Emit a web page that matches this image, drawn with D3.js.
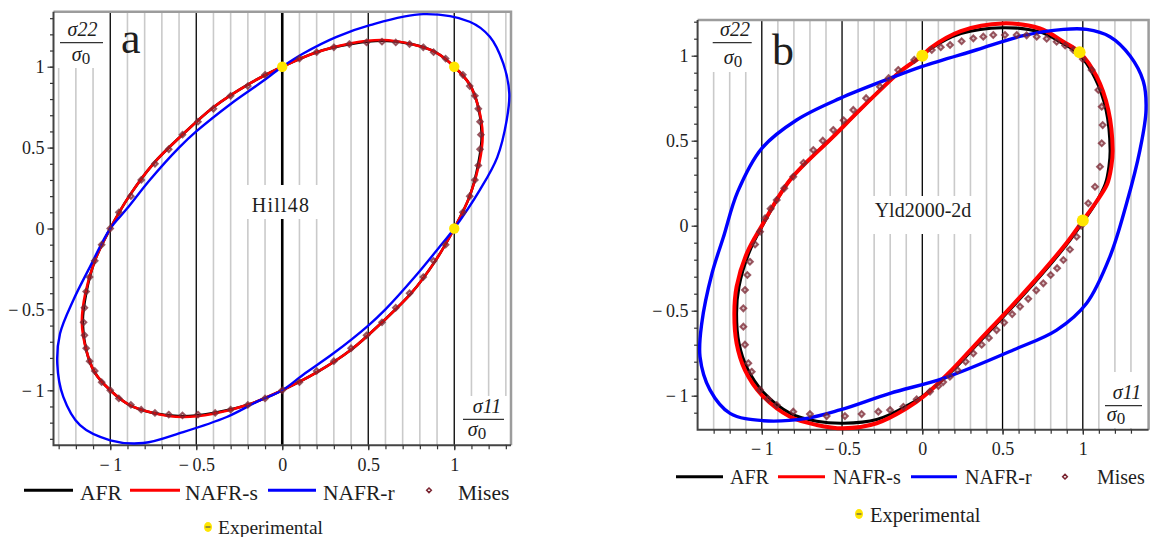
<!DOCTYPE html>
<html>
<head>
<meta charset="utf-8">
<script src="https://cdn.jsdelivr.net/npm/d3@7"></script>
<style>
  body { margin: 0; background: #fff; }
  svg { display: block; }
  text { font-family: "Liberation Serif", "DejaVu Serif", serif; fill: #1e1e1e; }
</style>
</head>
<body>
<svg id="chart" width="1156" height="537"></svg>
<script>
// ---- panel a : Hill48 ----
const afrA = [[1.00,1.00],[0.89,1.09],[0.75,1.14],[0.58,1.16],[0.40,1.14],[0.20,1.09],[0.00,1.00],[-0.20,0.89],[-0.40,0.75],[-0.58,0.58],[-0.75,0.40],[-0.89,0.20],[-1.00,0.00],[-1.09,-0.20],[-1.14,-0.40],[-1.16,-0.58],[-1.14,-0.75],[-1.09,-0.89],[-1.00,-1.00],[-0.89,-1.09],[-0.75,-1.14],[-0.58,-1.16],[-0.40,-1.14],[-0.20,-1.09],[0.00,-1.00],[0.20,-0.89],[0.40,-0.75],[0.58,-0.58],[0.75,-0.40],[0.89,-0.20],[1.00,0.00],[1.09,0.20],[1.14,0.40],[1.16,0.58],[1.14,0.75],[1.09,0.89]];
const nafrsA = [[1.00,1.00],[0.89,1.09],[0.75,1.14],[0.58,1.165],[0.40,1.145],[0.20,1.09],[0.00,1.00],[-0.20,0.89],[-0.40,0.75],[-0.58,0.58],[-0.75,0.40],[-0.89,0.20],[-1.00,0.00],[-1.09,-0.20],[-1.145,-0.40],[-1.165,-0.58],[-1.14,-0.75],[-1.09,-0.89],[-1.00,-1.00],[-0.89,-1.09],[-0.75,-1.14],[-0.58,-1.165],[-0.40,-1.145],[-0.20,-1.09],[0.00,-1.00],[0.20,-0.89],[0.40,-0.75],[0.58,-0.58],[0.75,-0.40],[0.89,-0.20],[1.00,0.00],[1.09,0.20],[1.145,0.40],[1.165,0.58],[1.14,0.75],[1.09,0.89]];
const nafrrA = [[1.00,0.00],[1.15,0.24],[1.25,0.44],[1.305,0.67],[1.32,0.835],[1.285,1.02],[1.207,1.185],[1.09,1.278],[0.82,1.325],[0.51,1.257],[0.316,1.185],[0.122,1.082],[0.00,1.00],[-0.12,0.905],[-0.30,0.77],[-0.50,0.60],[-0.60,0.50],[-0.77,0.30],[-0.905,0.12],[-1.00,0.00],[-1.118,-0.237],[-1.215,-0.443],[-1.292,-0.649],[-1.308,-0.835],[-1.273,-1.041],[-1.176,-1.216],[-1.00,-1.309],[-0.808,-1.326],[-0.576,-1.258],[-0.323,-1.165],[-0.149,-1.072],[0.00,-1.00],[0.12,-0.905],[0.30,-0.77],[0.50,-0.60],[0.60,-0.50],[0.77,-0.30],[0.907,-0.124]];
const misesA = [[1.00,1.00],[0.95,1.05],[0.88,1.09],[0.82,1.12],[0.74,1.14],[0.66,1.15],[0.58,1.155],[0.49,1.15],[0.39,1.14],[0.30,1.12],[0.20,1.09],[0.10,1.05],[0.00,1.00],[-0.10,0.95],[-0.20,0.88],[-0.30,0.82],[-0.40,0.74],[-0.49,0.66],[-0.58,0.58],[-0.66,0.49],[-0.74,0.40],[-0.82,0.30],[-0.88,0.20],[-0.95,0.10],[-1.00,0.00],[-1.05,-0.10],[-1.09,-0.20],[-1.12,-0.30],[-1.14,-0.39],[-1.15,-0.49],[-1.155,-0.58],[-1.15,-0.66],[-1.14,-0.74],[-1.12,-0.82],[-1.09,-0.88],[-1.05,-0.95],[-1.00,-1.00],[-0.95,-1.05],[-0.88,-1.09],[-0.82,-1.12],[-0.74,-1.14],[-0.66,-1.15],[-0.58,-1.155],[-0.49,-1.15],[-0.39,-1.14],[-0.30,-1.12],[-0.20,-1.09],[-0.10,-1.05],[0.00,-1.00],[0.10,-0.95],[0.20,-0.88],[0.30,-0.82],[0.40,-0.74],[0.49,-0.66],[0.58,-0.58],[0.66,-0.49],[0.74,-0.40],[0.82,-0.30],[0.88,-0.20],[0.95,-0.10],[1.00,0.00],[1.05,0.10],[1.09,0.20],[1.12,0.30],[1.14,0.39],[1.15,0.49],[1.155,0.58],[1.15,0.66],[1.14,0.74],[1.12,0.82],[1.09,0.88],[1.05,0.95]];
const expA = [[0.00,1.00],[1.00,1.00],[1.00,0.00]];

// ---- panel b : Yld2000-2d ----
const afrB = [[1.00,0.02],[1.075,0.125],[1.14,0.245],[1.163,0.35],[1.17,0.445],[1.145,0.68],[1.075,0.87],[0.975,1.01],[0.87,1.075],[0.73,1.14],[0.50,1.165],[0.24,1.13],[0.05,1.04],[0.00,1.00],[-0.139,0.906],[-0.305,0.759],[-0.555,0.524],[-0.824,0.269],[-0.99,0.01],[-1.08,-0.16],[-1.142,-0.359],[-1.157,-0.515],[-1.142,-0.69],[-1.09,-0.84],[-0.99,-0.98],[-0.82,-1.105],[-0.658,-1.15],[-0.492,-1.162],[-0.284,-1.14],[-0.097,-1.06],[0.006,-1.00],[0.18,-0.86],[0.36,-0.68],[0.56,-0.48],[0.76,-0.27],[0.90,-0.11]];
const nafrsB = [[1.00,0.03],[1.08,0.135],[1.152,0.245],[1.178,0.35],[1.186,0.445],[1.159,0.681],[1.087,0.876],[0.982,1.018],[0.879,1.082],[0.733,1.16],[0.50,1.19],[0.24,1.145],[0.05,1.045],[0.00,1.00],[-0.139,0.906],[-0.305,0.759],[-0.555,0.524],[-0.824,0.269],[-1.00,0.00],[-1.094,-0.163],[-1.157,-0.359],[-1.171,-0.515],[-1.157,-0.692],[-1.105,-0.849],[-1.00,-0.996],[-0.824,-1.124],[-0.658,-1.172],[-0.492,-1.192],[-0.284,-1.162],[-0.097,-1.074],[0.006,-1.006],[0.173,-0.859],[0.35,-0.68],[0.55,-0.48],[0.75,-0.27],[0.90,-0.10]];
const nafrrB = [[1.394,0.681],[1.377,0.85],[1.294,1.00],[1.169,1.112],[1.024,1.155],[0.879,1.155],[0.629,1.118],[0.34,1.035],[0.00,0.937],[-0.201,0.867],[-0.513,0.749],[-0.783,0.622],[-1.00,0.455],[-1.15,0.20],[-1.24,-0.07],[-1.31,-0.28],[-1.374,-0.574],[-1.385,-0.771],[-1.323,-0.966],[-1.198,-1.104],[-0.99,-1.147],[-0.72,-1.133],[-0.513,-1.084],[-0.201,-0.986],[0.131,-0.898],[0.567,-0.731],[0.837,-0.614],[1.024,-0.456],[1.169,-0.182],[1.273,0.132],[1.356,0.445]];
const misesB = [[0.99,0.00],[1.034,0.132],[1.076,0.229],[1.107,0.347],[1.118,0.485],[1.124,0.592],[1.118,0.70],[1.097,0.798],[1.055,0.916],[1.00,0.98],[0.941,1.034],[0.89,1.06],[0.837,1.082],[0.775,1.10],[0.713,1.112],[0.65,1.12],[0.588,1.122],[0.515,1.122],[0.442,1.122],[0.38,1.112],[0.318,1.102],[0.245,1.085],[0.173,1.063],[0.115,1.05],[0.059,1.034],[-0.05,0.975],[-0.15,0.916],[-0.21,0.868],[-0.264,0.818],[-0.35,0.75],[-0.43,0.681],[-0.49,0.62],[-0.555,0.563],[-0.62,0.50],[-0.679,0.445],[-0.74,0.37],[-0.804,0.288],[-0.86,0.22],[-0.907,0.151],[-0.945,0.10],[-0.98,0.044],[-1.011,-0.035],[-1.042,-0.11],[-1.074,-0.212],[-1.09,-0.29],[-1.105,-0.378],[-1.115,-0.486],[-1.115,-0.594],[-1.105,-0.70],[-1.084,-0.809],[-1.063,-0.859],[-1.011,-0.966],[-0.96,-1.02],[-0.907,-1.055],[-0.804,-1.094],[-0.70,-1.108],[-0.596,-1.12],[-0.482,-1.12],[-0.378,-1.108],[-0.274,-1.094],[-0.201,-1.084],[-0.118,-1.065],[-0.035,-1.021],[0.048,-0.976],[0.10,-0.943],[0.13,-0.92],[0.172,-0.888],[0.22,-0.85],[0.27,-0.80],[0.318,-0.751],[0.37,-0.70],[0.415,-0.66],[0.463,-0.614],[0.51,-0.57],[0.56,-0.52],[0.609,-0.476],[0.66,-0.43],[0.71,-0.38],[0.754,-0.339],[0.80,-0.29],[0.84,-0.25],[0.879,-0.202],[0.92,-0.14],[0.962,-0.065]];
const expB = [[0.00,1.00],[0.98,1.02],[1.00,0.03]];

// ticks and labels
const gridSteps = d3.range(-14, 15).map(i => i / 10);
const majorTicks = [-1, -0.5, 0, 0.5, 1];
const legendNames = ["AFR", "NAFR-s", "NAFR-r", "Mises"];
const expName = "Experimental";

const colors = {
    afr: "#000000",
    nafrs: "#ff0000",
    nafrr: "#0000ff",
    mises: "#7a2430",
    exp: "#ffe600",
    grid: "#cacaca",
};

const svg = d3.select("#chart");

// rotated square marker (Maple "diamond")
const diamond = {
    draw: (ctx, size) => {
        const r = Math.sqrt(size) / 2;
        ctx.moveTo(0, -r); ctx.lineTo(r, 0); ctx.lineTo(0, r); ctx.lineTo(-r, 0); ctx.closePath();
    }
};

const tickFmt = v => v < 0 ? "\u2212\u2009" + d3.format("~g")(-v) : d3.format("~g")(v);

drawFrac = (g, f, numTxt) => {
    g.append("text").attr("x", f.numX).attr("y", f.barY - 6.5)
        .attr("text-anchor", "middle").attr("font-size", 20).attr("font-style", "italic")
        .text(numTxt);
    g.append("line").attr("x1", f.barX1).attr("x2", f.barX2)
        .attr("y1", f.barY).attr("y2", f.barY)
        .attr("stroke", "#333").attr("stroke-width", 1.2);
    const den = g.append("text").attr("x", f.denX).attr("y", f.denY)
        .attr("text-anchor", "middle").attr("font-size", 20);
    den.append("tspan").attr("font-style", "italic").text("σ");
    den.append("tspan").attr("font-size", 17).attr("dy", 3).text("0");
}

drawPanel = (p) => {
    const g = svg.append("g");
    const x = d3.scaleLinear().domain(p.xDomain).range([p.left, p.right]);
    const y = d3.scaleLinear().domain(p.yDomain).range([p.bottom, p.top]);
    const inX = gridSteps.filter(v => v > p.xDomain[0] + 0.01 && v < p.xDomain[1] - 0.01);
    const inY = gridSteps.filter(v => v > p.yDomain[0] && v < p.yDomain[1]);
    const isMajor = v => Math.abs(v * 2 - Math.round(v * 2)) < 1e-6;

    // vertical grid lines, grey first then black
    g.append("g").selectAll("line")
        .data(inX.slice().sort((a, b) => isMajor(a) - isMajor(b)))
        .join("line")
        .attr("x1", d => x(d)).attr("x2", d => x(d))
        .attr("y1", p.top).attr("y2", p.bottom)
        .attr("stroke", d => isMajor(d) ? "#000" : colors.grid)
        .attr("stroke-width", d => d === 0 ? p.zeroW : isMajor(d) ? 1.3 : 1.6);

    // white boxes behind the labels
    g.append("g").selectAll("rect")
        .data(p.boxes)
        .join("rect")
        .attr("x", d => d[0]).attr("y", d => d[1])
        .attr("width", d => d[2] - d[0]).attr("height", d => d[3] - d[1])
        .attr("fill", "#fff");

    // frame
    g.append("path")
        .attr("d", `M${p.left},${p.top}H${p.right}V${p.bottom}`)
        .attr("fill", "none").attr("stroke", "#9c9c9c").attr("stroke-width", 2.5);
    g.append("path")
        .attr("d", `M${p.left},${p.top}V${p.bottom}H${p.right}`)
        .attr("fill", "none").attr("stroke", "#444").attr("stroke-width", 2);

    // axes
    const styleAxis = a => {
        a.select(".domain").remove();
        a.attr("font-size", 18).attr("font-family", "Liberation Serif, serif");
        a.selectAll("line").attr("stroke", "#333").attr("stroke-width", 1.2);
        a.selectAll("text").attr("fill", "#222");
    };
    g.append("g").attr("transform", `translate(0,${p.bottom})`)
        .call(d3.axisBottom(x).tickValues(inX).tickSize(4).tickFormat(""))
        .call(styleAxis);
    g.append("g").attr("transform", `translate(0,${p.bottom})`)
        .call(d3.axisBottom(x).tickValues(majorTicks).tickSize(5).tickPadding(8).tickFormat(tickFmt))
        .call(styleAxis);
    g.append("g").attr("transform", `translate(${p.left},0)`)
        .call(d3.axisLeft(y).tickValues(inY).tickSize(3.5).tickFormat(""))
        .call(styleAxis);
    g.append("g").attr("transform", `translate(${p.left},0)`)
        .call(d3.axisLeft(y).tickValues(majorTicks).tickSize(6).tickPadding(3).tickFormat(tickFmt))
        .call(styleAxis);

    // curves
    const line = d3.line()
        .x(d => x(d[0]))
        .y(d => y(d[1]))
        .curve(d3.curveCatmullRomClosed.alpha(0.5));
    [["afr", p.afr, p.w.afr], ["nafrs", p.nafrs, p.w.nafrs], ["nafrr", p.nafrr, p.w.nafrr]]
        .forEach(([k, pts, w]) => {
            g.append("path")
                .attr("d", line(pts))
                .attr("fill", "none")
                .attr("stroke", colors[k])
                .attr("stroke-width", w)
                .attr("stroke-linejoin", "round");
        });

    g.append("g").selectAll("path")
        .data(p.mises)
        .join("path")
        .attr("transform", d => `translate(${x(d[0])},${y(d[1])})`)
        .attr("d", d3.symbol(diamond, p.misesSize))
        .attr("fill", colors.mises)
        .attr("fill-opacity", 0.3)
        .attr("stroke", colors.mises)
        .attr("stroke-width", 2)
        .attr("stroke-opacity", 0.75);

    g.append("g").selectAll("circle")
        .data(p.exp)
        .join("circle")
        .attr("cx", d => x(d[0])).attr("cy", d => y(d[1]))
        .attr("r", p.expR)
        .attr("fill", colors.exp);

    // labels
    g.append("text").attr("x", p.letter[0]).attr("y", p.letter[1])
        .attr("font-size", 44).text(p.name);
    g.append("text").attr("x", p.model[0]).attr("y", p.model[1])
        .attr("text-anchor", "middle").attr("font-size", p.model[2])
        .attr("letter-spacing", p.model[3])
        .text(p.modelName);
    drawFrac(g, p.frac22, "σ22");
    drawFrac(g, p.frac11, "σ11");

    // legend
    const L = p.legend;
    const lg = g.append("g").attr("font-size", L.fs);
    ["afr", "nafrs", "nafrr"].forEach((k, i) => {
        lg.append("line")
            .attr("x1", L.lines[i][0]).attr("x2", L.lines[i][1])
            .attr("y1", L.y).attr("y2", L.y)
            .attr("stroke", colors[k]).attr("stroke-width", 3);
    });
    lg.append("path")
        .attr("transform", `translate(${L.diamond},${L.y})`)
        .attr("d", d3.symbol(diamond, 22))
        .attr("fill", "none").attr("stroke", colors.mises).attr("stroke-width", 1.5);
    lg.selectAll("text.name")
        .data(legendNames)
        .join("text")
        .attr("class", "name")
        .attr("x", (_, i) => L.textX[i])
        .attr("y", L.base)
        .text(d => d);
    lg.append("ellipse")
        .attr("cx", L.exp[0]).attr("cy", L.exp[1])
        .attr("rx", 4).attr("ry", 5)
        .attr("fill", colors.exp);
    lg.append("line")
        .attr("x1", L.exp[0] - 2.5).attr("x2", L.exp[0] + 2.5)
        .attr("y1", L.exp[1]).attr("y2", L.exp[1])
        .attr("stroke", "#555").attr("stroke-width", 1.2);
    lg.append("text")
        .attr("x", L.exp[2]).attr("y", L.exp[3])
        .attr("font-size", L.expFs)
        .text(expName);
}

drawPanel({
    name: "a", modelName: "Hill48",
    xDomain: [-1.33, 1.33], yDomain: [-1.34, 1.34],
    left: 53.5, right: 511, top: 11.7, bottom: 445.3,
    zeroW: 2.6,
    afr: afrA, nafrs: nafrsA, nafrr: nafrrA, mises: misesA, exp: expA,
    w: { afr: 2.6, nafrs: 2.6, nafrr: 2.4 },
    misesSize: 30,
    expR: 5.2,
    boxes: [[55, 13, 106, 68], [243, 185, 319, 219], [458, 396, 510, 444]],
    letter: [121, 53],
    model: [281, 212, 20, 1.2],
    frac22: { numX: 82.5, barX1: 60, barX2: 103, barY: 42.7, denX: 81, denY: 61 },
    frac11: { numX: 487, barX1: 463, barX2: 504, barY: 419.3, denX: 477, denY: 436 },
    legend: {
        fs: 21.5, y: 490.3, base: 499.7,
        lines: [[24, 73], [130, 180], [268, 316]],
        textX: [80, 185, 323, 458],
        diamond: 429,
        exp: [208, 527, 218, 534], expFs: 19.5,
    },
});

drawPanel({
    name: "b", modelName: "Yld2000-2d",
    xDomain: [-1.4, 1.41], yDomain: [-1.2, 1.21],
    left: 697.6, right: 1148.6, top: 20, bottom: 429.7,
    zeroW: 1.3,
    afr: afrB, nafrs: nafrsB, nafrr: nafrrB, mises: misesB, exp: expB,
    w: { afr: 3, nafrs: 4, nafrr: 3.4 },
    misesSize: 34,
    expR: 6,
    boxes: [[699, 21, 755, 72], [866, 196, 982, 234], [1100, 372, 1147, 428]],
    letter: [772, 65],
    model: [923, 217, 20, 0],
    frac22: { numX: 735, barX1: 712.7, barX2: 751.7, barY: 42.7, denX: 733, denY: 64 },
    frac11: { numX: 1127, barX1: 1105, barX2: 1142, barY: 405.7, denX: 1116, denY: 421 },
    legend: {
        fs: 20, y: 476.7, base: 484,
        lines: [[676, 723], [778, 825], [911, 957]],
        textX: [730, 833, 965, 1097],
        diamond: 1065,
        exp: [859, 514, 870, 521.7], expFs: 20.5,
    },
});
</script>
</body>
</html>
